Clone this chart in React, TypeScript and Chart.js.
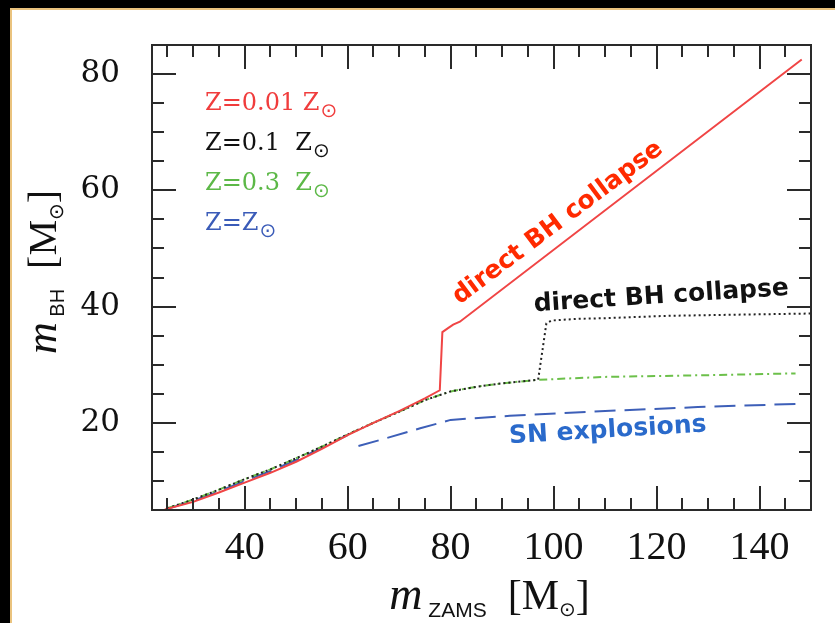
import React, { useEffect, useRef } from 'react';
import { Chart, registerables } from 'chart.js';

Chart.register(...registerables);

// Axis ranges and ticks
const xRange = [22, 150];
const yRange = [5, 85];
const xTickValues = [40, 60, 80, 100, 120, 140];
const yTickValues = [20, 40, 60, 80];
const minorStep = 5;
const majorStep = 20;

// Z = 0.01 Zsun
const lowZMass = [24.5, 30, 35, 40, 45, 50, 55, 60, 65, 70, 75, 77.9, 78.4, 79.5, 80.5, 81.8, 148.2];
const lowZRemnant = [5.1, 6.4, 8.0, 9.7, 11.4, 13.3, 15.5, 17.9, 20.0, 22.0, 24.2, 25.6, 35.6, 36.3, 36.9, 37.4, 82.5];

// Z = 0.1 Zsun
const tenthZMass = [25, 30, 35, 40, 45, 50, 55, 60, 65, 70, 75, 80, 85, 90, 97, 98.6, 99.6, 105, 110, 122, 135, 150];
const tenthZRemnant = [5.3, 6.8, 8.5, 10.3, 12.0, 13.9, 15.9, 18.0, 20.0, 21.9, 23.9, 25.4, 26.2, 26.8, 27.4, 37.1, 37.6, 37.9, 38.0, 38.4, 38.6, 38.8];

// Z = 0.3 Zsun
const thirdZMass = [25, 30, 35, 40, 45, 50, 55, 60, 65, 70, 75, 80, 85, 90, 97, 110, 130, 147];
const thirdZRemnant = [5.3, 6.8, 8.5, 10.3, 12.0, 13.9, 15.9, 18.0, 20.0, 21.9, 23.9, 25.4, 26.2, 26.8, 27.4, 27.9, 28.2, 28.5];

// Z = Zsun: low-mass track, then the SN-explosion branch (null marks the break)
const solarZMass = [25, 30, 35, 40, 45, 50, 55, 60, 61, 62.1, 66.9, 74.1, 80, 91.5, 109, 128, 148.5];
const solarZRemnant = [5.2, 6.6, 8.2, 10.0, 11.7, 13.6, 15.7, 17.9, null, 16.0, 17.2, 19.05, 20.5, 21.2, 22.0, 22.7, 23.3];

// Legend entries (each followed by a subscript sun symbol)
const legendLabels = ['Z=0.01 Z', 'Z=0.1  Z', 'Z=0.3  Z', 'Z=Z'];
const legendColors = ['#f03c3c', '#111111', '#5cb847', '#3a5bb8'];

// Annotations placed in data coordinates
const noteTexts = ['direct BH collapse', 'direct BH collapse', 'SN explosions'];
const noteX = [101.6, 121.0, 110.6];
const noteY = [53.5, 40.6, 17.5];
const noteAngle = [-36.8, -3.7, -3.4];
const noteColors = ['#ff2a00', '#111111', '#2a6acb'];

const SUN = '\u2299';
const FRAME = '#2a2a2a';

const pts = (xs: number[], ys: (number | null)[]) => xs.map((x, i) => ({ x, y: ys[i] }));

type Run = { text: string; font: string; dy?: number };

function drawRuns(ctx: CanvasRenderingContext2D, runs: Run[], cx: number, baseY: number, color: string) {
  let total = 0;
  const widths = runs.map((r) => {
    ctx.font = r.font;
    const w = ctx.measureText(r.text).width;
    total += w;
    return w;
  });
  let x = cx - total / 2;
  ctx.fillStyle = color;
  ctx.textAlign = 'left';
  ctx.textBaseline = 'alphabetic';
  runs.forEach((r, i) => {
    ctx.font = r.font;
    ctx.fillText(r.text, x, baseY + (r.dy || 0));
    x += widths[i];
  });
}

const framePlugin = {
  id: 'frameTicks',
  afterDraw(chart: any) {
    const ctx: CanvasRenderingContext2D = chart.ctx;
    const { left, right, top, bottom } = chart.chartArea;
    const xs = chart.scales.x;
    const ys = chart.scales.y;
    ctx.save();
    ctx.setLineDash([]);
    ctx.strokeStyle = FRAME;
    ctx.lineWidth = 2;
    ctx.strokeRect(left, top, right - left, bottom - top);

    // inward tick marks on all four sides
    for (let v = xRange[0] + 1; v < xRange[1]; v++) {
      if (v % minorStep !== 0) continue;
      const px = Math.round(xs.getPixelForValue(v));
      const len = v % majorStep === 0 ? 24 : 12;
      ctx.beginPath();
      ctx.moveTo(px, bottom);
      ctx.lineTo(px, bottom - len);
      ctx.moveTo(px, top);
      ctx.lineTo(px, top + len);
      ctx.stroke();
    }
    for (let v = yRange[0] + 1; v < yRange[1]; v++) {
      if (v % minorStep !== 0) continue;
      const py = Math.round(ys.getPixelForValue(v));
      const len = v % majorStep === 0 ? 24 : 12;
      ctx.beginPath();
      ctx.moveTo(left, py);
      ctx.lineTo(left + len, py);
      ctx.moveTo(right, py);
      ctx.lineTo(right - len, py);
      ctx.stroke();
    }

    // Legend
    legendLabels.forEach((label, i) => {
      const x0 = left + 53;
      const base = top + 65 + i * 40;
      ctx.font = '24px "DejaVu Serif"';
      ctx.fillStyle = legendColors[i];
      ctx.textAlign = 'left';
      ctx.textBaseline = 'alphabetic';
      ctx.fillText(label, x0, base);
      const w = ctx.measureText(label).width;
      ctx.font = '20px "DejaVu Sans"';
      ctx.fillText(SUN, x0 + w + 1, base + 7);
    });

    // Annotations
    noteTexts.forEach((t, i) => {
      const px = xs.getPixelForValue(noteX[i]);
      const py = ys.getPixelForValue(noteY[i]);
      ctx.save();
      ctx.translate(px, py);
      ctx.rotate((noteAngle[i] * Math.PI) / 180);
      ctx.font = 'bold 25px "DejaVu Sans"';
      ctx.fillStyle = noteColors[i];
      ctx.textAlign = 'center';
      ctx.textBaseline = 'alphabetic';
      ctx.fillText(t, 0, 0);
      ctx.restore();
    });

    // X axis title
    const xRuns: Run[] = [
      { text: 'm', font: 'italic 46px "Liberation Serif"' },
      { text: ' ZAMS', font: '21px "Liberation Sans Narrow", "Liberation Sans"', dy: 8 },
      { text: '  [M', font: '42px "Liberation Serif"' },
      { text: SUN, font: '20px "DejaVu Sans"', dy: 7 },
      { text: ']', font: '42px "Liberation Serif"' },
    ];
    drawRuns(ctx, xRuns, (left + right) / 2 + 8, 609, '#111111');

    // Y axis title
    const yRuns: Run[] = [
      { text: 'm', font: 'italic 44px "Liberation Serif"' },
      { text: ' BH', font: '20px "Liberation Sans Narrow", "Liberation Sans"', dy: 8 },
      { text: '  [M', font: '40px "Liberation Serif"' },
      { text: SUN, font: '20px "DejaVu Sans"', dy: 7 },
      { text: ']', font: '40px "Liberation Serif"' },
    ];
    ctx.save();
    ctx.translate(56, 272);
    ctx.rotate(-Math.PI / 2);
    drawRuns(ctx, yRuns, 0, 0, '#111111');
    ctx.restore();

    ctx.restore();
  },
};

export default function App() {
  const canvasRef = useRef<HTMLCanvasElement | null>(null);

  useEffect(() => {
    const canvas = canvasRef.current;
    if (!canvas) return;
    const chart = new Chart(canvas, {
      type: 'line',
      data: {
        datasets: [
          {
            label: 'Z=0.01 Zsun',
            data: pts(lowZMass, lowZRemnant),
            borderColor: '#f04545',
            borderWidth: 2,
            pointRadius: 0,
            tension: 0,
          },
          {
            label: 'Z=0.1 Zsun',
            data: pts(tenthZMass, tenthZRemnant),
            borderColor: '#222222',
            borderWidth: 2,
            borderDash: [2, 3],
            pointRadius: 0,
            tension: 0,
          },
          {
            label: 'Z=0.3 Zsun',
            data: pts(thirdZMass, thirdZRemnant),
            borderColor: '#6cc04a',
            borderWidth: 2,
            borderDash: [8, 4, 2, 4],
            pointRadius: 0,
            tension: 0,
          },
          {
            label: 'Z=Zsun',
            data: pts(solarZMass, solarZRemnant),
            borderColor: '#3d5fb8',
            borderWidth: 2,
            borderDash: [21, 9],
            pointRadius: 0,
            tension: 0,
            spanGaps: false,
          },
        ],
      },
      options: {
        responsive: false,
        animation: false,
        devicePixelRatio: 1,
        layout: { padding: { top: 45, right: 24, left: 0, bottom: 0 } },
        plugins: { legend: { display: false }, tooltip: { enabled: false } },
        scales: {
          x: {
            type: 'linear',
            min: xRange[0],
            max: xRange[1],
            grid: { display: false },
            border: { display: false },
            afterBuildTicks: (s: any) => {
              s.ticks = xTickValues.map((v) => ({ value: v }));
            },
            afterFit: (s: any) => {
              s.height = 113;
            },
            ticks: {
              color: '#111111',
              padding: 6,
              maxRotation: 0,
              font: { family: '"Liberation Serif"', size: 40 },
            },
          },
          y: {
            type: 'linear',
            min: yRange[0],
            max: yRange[1],
            grid: { display: false },
            border: { display: false },
            afterBuildTicks: (s: any) => {
              s.ticks = yTickValues.map((v) => ({ value: v }));
            },
            afterFit: (s: any) => {
              s.width = 152;
            },
            ticks: {
              color: '#111111',
              padding: 24,
              font: { family: '"DejaVu Serif"', size: 31 },
            },
          },
        },
      },
      plugins: [framePlugin],
    });
    return () => chart.destroy();
  }, []);

  return (
    <div style={{ position: 'fixed', left: 0, top: 0, width: 835, height: 623, background: '#000' }}>
      <div
        style={{
          position: 'absolute',
          left: 10,
          top: 8,
          right: 0,
          bottom: 0,
          background: '#fff',
          borderTop: '2px solid #eac37e',
          borderLeft: '2px solid #eac37e',
        }}
      />
      <canvas ref={canvasRef} width={835} height={623} style={{ position: 'absolute', left: 0, top: 0 }} />
    </div>
  );
}
